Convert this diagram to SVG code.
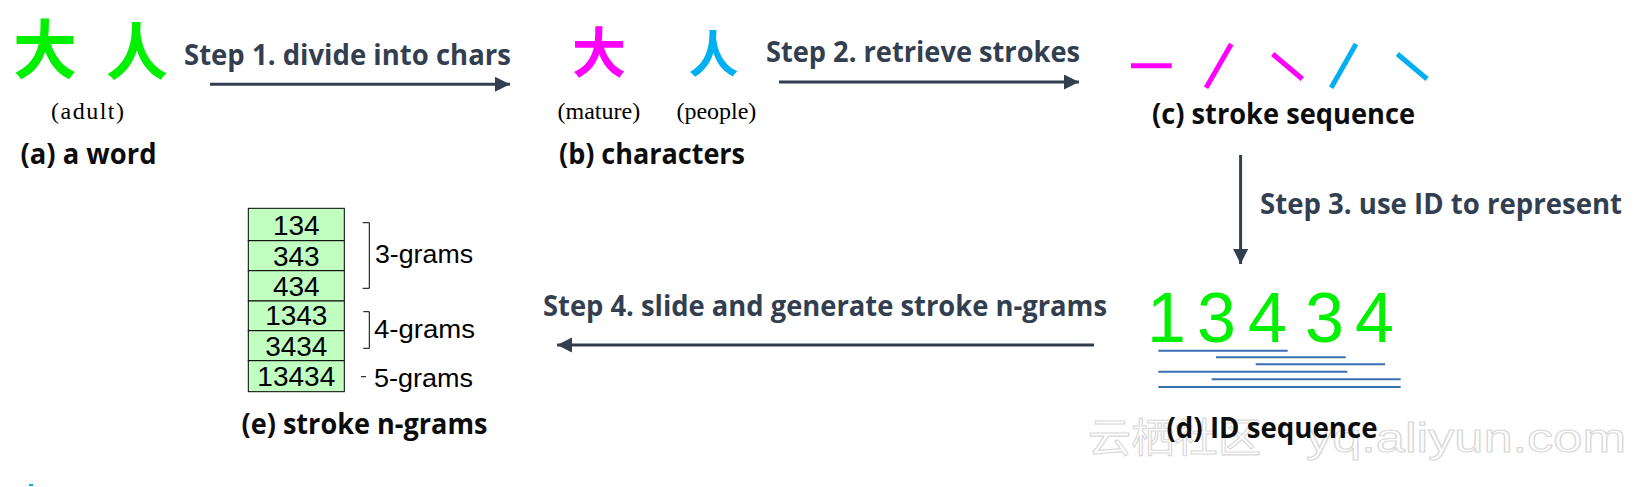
<svg xmlns="http://www.w3.org/2000/svg" width="1640" height="487" viewBox="0 0 1640 487">
  <style>
    .cap { font-family: "Open Sans", "Liberation Sans", sans-serif; font-weight: 700; font-size: 28px; fill: #0d0d0d; }
    .step { font-family: "Open Sans", "Liberation Sans", sans-serif; font-weight: 700; font-size: 28px; fill: #333f50; }
    .gloss { font-family: "Liberation Serif", serif; font-size: 24px; fill: #000; }
    .cjk { font-family: "Noto Sans CJK SC", sans-serif; font-weight: 700; text-anchor: middle; }
    .g { fill: #00f000; }
    .m { fill: #ff00ff; }
    .c { fill: #00b0f0; }
    .stroke-m { stroke: #ff00ff; stroke-width: 5; stroke-linecap: butt; fill: none; }
    .stroke-c { stroke: #00b0f0; stroke-width: 5; stroke-linecap: butt; fill: none; }
    .arrow { stroke: #333f50; stroke-width: 3; fill: none; marker-end: url(#head); }
    .cell { fill: #c0ffc0; stroke: #000; stroke-width: 1; }
    .num { font-family: "Liberation Sans", Arial, sans-serif; font-size: 28px; fill: #000; text-anchor: middle; }
    .gram { font-family: "Liberation Sans", Arial, sans-serif; font-size: 25px; fill: #000; }
    .brk { stroke: #000; stroke-width: 1; fill: none; }
    .span { stroke: #3a6fb5; stroke-width: 2; }
    .wm { font-size: 40px; fill: #ffffff; stroke: #d9d9d9; stroke-width: 1.1; }
  </style>
  <defs>
    <marker id="head" markerUnits="userSpaceOnUse" markerWidth="16" markerHeight="16" refX="15" refY="7.5" orient="auto">
      <path d="M0,0 L15,7.5 L0,15 z" fill="#333f50"/>
    </marker>
  </defs>
  <rect width="1640" height="487" fill="#ffffff"/>

  <!-- watermark -->
  <text class="wm" x="1088" y="452"><tspan font-family="Noto Sans CJK SC, sans-serif" textLength="173" lengthAdjust="spacingAndGlyphs">云栖社区</tspan><tspan font-family="Liberation Sans, sans-serif" x="1306" textLength="320" lengthAdjust="spacingAndGlyphs">yq.aliyun.com</tspan></text>

  <g id="node-a">
    <text class="cjk g" x="45" y="73" font-size="64">大</text>
    <text class="cjk g" x="137" y="75" font-size="62">人</text>
    <text class="gloss" x="51" y="119" letter-spacing="1.5">(adult)</text>
    <text class="cap" x="20.5" y="164" textLength="136" lengthAdjust="spacingAndGlyphs">(a) a word</text>
  </g>

  <g id="node-b">
    <text class="cjk m" x="599" y="73" font-size="54">大</text>
    <text class="cjk c" x="713.5" y="72" font-size="50">人</text>
    <text class="gloss" x="557.5" y="118.5">(mature)</text>
    <text class="gloss" x="676.4" y="118.5">(people)</text>
    <text class="cap" x="559" y="164" textLength="186" lengthAdjust="spacingAndGlyphs">(b) characters</text>
  </g>

  <g id="node-c">
    <line class="stroke-m" x1="1131" y1="65.7" x2="1171.7" y2="65.7"/>
    <line class="stroke-m" x1="1231.3" y1="44" x2="1206.1" y2="87.7"/>
    <line class="stroke-m" x1="1272.7" y1="54" x2="1302.3" y2="79"/>
    <line class="stroke-c" x1="1356" y1="44" x2="1331.2" y2="87.7"/>
    <line class="stroke-c" x1="1397.4" y1="54" x2="1427" y2="79"/>
    <text class="cap" x="1152" y="124" textLength="263" lengthAdjust="spacingAndGlyphs">(c) stroke sequence</text>
  </g>

  <g id="node-d">
    <text x="1147 1197 1248 1305 1355" y="341.7" font-family="Liberation Sans, sans-serif" font-size="70" fill="#00f000">13434</text>
    <line class="span" x1="1158.3" y1="350.7" x2="1287.7" y2="350.7"/>
    <line class="span" x1="1216" y1="357.3" x2="1345.7" y2="357.3"/>
    <line class="span" x1="1255.7" y1="364.3" x2="1385" y2="364.3"/>
    <line class="span" x1="1158.3" y1="371.7" x2="1347.3" y2="371.7"/>
    <line class="span" x1="1211.7" y1="379.3" x2="1400.7" y2="379.3"/>
    <line class="span" x1="1158.3" y1="387" x2="1400.7" y2="387"/>
    <text class="cap" x="1166.5" y="438" textLength="211" lengthAdjust="spacingAndGlyphs">(d) ID sequence</text>
  </g>

  <g id="node-e">
    <rect class="cell" x="248.3" y="208.3" width="96" height="32.4"/>
    <rect class="cell" x="248.3" y="240.7" width="96" height="30"/>
    <rect class="cell" x="248.3" y="270.7" width="96" height="30.3"/>
    <rect class="cell" x="248.3" y="301" width="96" height="29.7"/>
    <rect class="cell" x="248.3" y="330.7" width="96" height="30"/>
    <rect class="cell" x="248.3" y="360.7" width="96" height="31"/>
    <text class="num" x="296.3" y="235">134</text>
    <text class="num" x="296.3" y="266">343</text>
    <text class="num" x="296.3" y="296">434</text>
    <text class="num" x="296.3" y="325">1343</text>
    <text class="num" x="296.3" y="355.5">3434</text>
    <text class="num" x="296.3" y="386">13434</text>
    <path class="brk" d="M362.7,222.7 H369.3 V288.3 H362.7"/>
    <path class="brk" d="M363.3,311.7 H369.3 V348.3 H363.3"/>
    <path class="brk" d="M361,376.7 H366"/>
    <text class="gram" x="375" y="262.7" textLength="98" lengthAdjust="spacingAndGlyphs">3-grams</text>
    <text class="gram" x="374" y="337.7" textLength="101" lengthAdjust="spacingAndGlyphs">4-grams</text>
    <text class="gram" x="374" y="386.7" textLength="99" lengthAdjust="spacingAndGlyphs">5-grams</text>
    <text class="cap" x="241.5" y="434" textLength="246" lengthAdjust="spacingAndGlyphs">(e) stroke n-grams</text>
  </g>

  <g id="connectors">
    <line class="arrow" x1="210" y1="84.3" x2="510" y2="84.3"/>
    <text class="step" x="184" y="65" textLength="327" lengthAdjust="spacingAndGlyphs">Step 1. divide into chars</text>
    <line class="arrow" x1="779" y1="82" x2="1079" y2="82"/>
    <text class="step" x="766" y="62" textLength="314" lengthAdjust="spacingAndGlyphs">Step 2. retrieve strokes</text>
    <line class="arrow" x1="1240.6" y1="155" x2="1240.6" y2="264"/>
    <text class="step" x="1260" y="214" textLength="362" lengthAdjust="spacingAndGlyphs">Step 3. use ID to represent</text>
    <line class="arrow" x1="1094" y1="345" x2="557" y2="345"/>
    <text class="step" x="543" y="316" textLength="564" lengthAdjust="spacingAndGlyphs">Step 4. slide and generate stroke n-grams</text>
  </g>

  <rect x="29" y="484" width="4" height="2" fill="#00b0f0"/>
</svg>
